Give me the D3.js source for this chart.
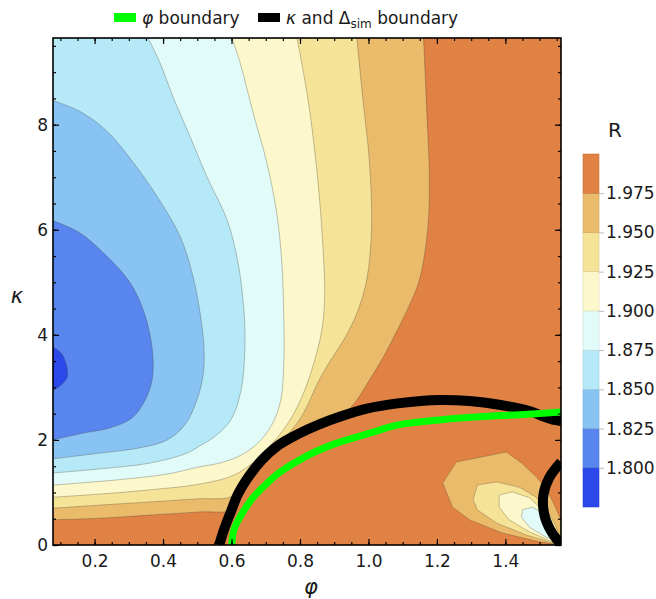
<!DOCTYPE html>
<html lang="en">
<head>
<meta charset="utf-8">
<title>R contour map</title>
<script src="https://cdn.jsdelivr.net/npm/d3@7"></script>
<style>
  body { margin: 0; background: #fff; }
  svg text { font-family: "DejaVu Sans", "Liberation Sans", Arial, sans-serif; fill: #1a1a1a; }
  .axis path { display: none; }
  .axis line { stroke: #000; stroke-width: 1.2; }
  .axis text { font-size: 17px; }
  .cbar path { display: none; }
  .cbar line { stroke: #bbb; }
  .cbar text { font-size: 17px; }
</style>
</head>
<body>
<script>
// plot ranges
var phiRange = [0.0785, 1.5625];
var kappaRange = [0, 9.65];
var xTicks = [0.2, 0.4, 0.6, 0.8, 1.0, 1.2, 1.4];
var yTicks = [0, 2, 4, 6, 8];

// contour levels and band colours (band i = R below levels[i], last = above top level)
var levels = [1.800, 1.825, 1.850, 1.875, 1.900, 1.925, 1.950, 1.975];
var bandColors = ["#2b49ea", "#5886ee", "#89c3f3", "#b6e9f7", "#e0fbf8",
                  "#fcf8cb", "#f5e397", "#eabb6b", "#df8244"];

// contour lines [phi, kappa], one per level
var c1800 = [[0.0785,3.77],[0.106,3.62],[0.120,3.20],[0.091,2.99],[0.0785,2.95]];
var c1825 = [[0.0785,6.17],[0.152,5.96],[0.237,5.49],[0.304,4.99],[0.342,4.48],[0.362,4.00],
             [0.371,3.52],[0.368,3.14],[0.348,2.76],[0.310,2.42],[0.246,2.23],[0.167,2.13],[0.0785,2.00]];
var c1850 = [[0.0785,8.46],[0.158,8.25],[0.237,7.87],[0.313,7.28],[0.383,6.63],[0.450,5.87],
             [0.488,5.10],[0.511,4.29],[0.520,3.71],[0.517,3.24],[0.499,2.76],[0.464,2.29],
             [0.412,2.00],[0.333,1.85],[0.217,1.75],[0.0785,1.64]];
var c1875 = [[0.356,9.65],[0.391,9.18],[0.429,8.53],[0.479,7.77],[0.528,7.01],[0.587,6.19],
             [0.619,5.37],[0.636,4.48],[0.639,3.71],[0.628,2.95],[0.598,2.38],[0.546,2.04],
             [0.508,1.89],[0.470,1.75],[0.362,1.56],[0.217,1.45],[0.0785,1.37]];
var c1900 = [[0.601,9.65],[0.625,9.18],[0.663,8.23],[0.703,7.28],[0.732,6.32],[0.747,5.37],
             [0.753,4.23],[0.753,3.52],[0.744,2.76],[0.718,2.29],[0.677,1.94],[0.625,1.70],
             [0.566,1.56],[0.508,1.49],[0.412,1.35],[0.266,1.24],[0.0785,1.14]];
var c1925 = [[0.791,9.65],[0.805,9.18],[0.829,8.23],[0.852,6.95],[0.867,5.68],[0.872,4.72],
             [0.864,4.10],[0.843,3.52],[0.814,2.95],[0.773,2.40],[0.724,1.97],[0.672,1.62],
             [0.607,1.33],[0.508,1.16],[0.362,1.05],[0.217,0.97],[0.0785,0.91]];
var c1950 = [[0.966,9.65],[0.983,8.53],[1.003,7.28],[1.009,6.00],[0.995,5.05],[0.968,4.44],
             [0.931,3.94],[0.887,3.49],[0.849,3.05],[0.823,2.67],[0.794,2.34],[0.756,2.04],
             [0.712,1.77],[0.674,1.50],[0.645,1.24],[0.619,1.01],[0.590,0.90],[0.508,0.88],
             [0.362,0.82],[0.217,0.76],[0.0785,0.70]];
var c1975 = [[1.161,9.65],[1.173,7.90],[1.178,6.95],[1.173,6.00],[1.149,5.05],[1.120,4.57],
             [1.085,4.10],[1.047,3.62],[1.003,3.14],[0.966,2.76],[0.936,2.54],[0.916,2.44],
             [0.858,2.30],[0.794,2.11],[0.735,1.89],[0.689,1.62],[0.651,1.31],[0.619,0.97],
             [0.598,0.67],[0.508,0.63],[0.362,0.57],[0.217,0.51],[0.0785,0.48]];
var mainContours = [c1800, c1825, c1850, c1875, c1900, c1925, c1950, c1975];

// small dip near the lower right corner (closed outlines)
var blob1975 = [[1.217,1.18],[1.257,1.58],[1.403,1.77],[1.447,1.56],[1.490,1.30],[1.522,1.05],
                [1.543,0.76],[1.5625,0.48],[1.5625,0],[1.499,0.06],[1.391,0.23],[1.295,0.48],[1.246,0.72]];
var blob1950 = [[1.318,1.14],[1.374,1.20],[1.441,1.10],[1.490,0.91],[1.522,0.67],[1.546,0.38],
                [1.5625,0.10],[1.537,0.04],[1.461,0.19],[1.374,0.42],[1.318,0.67],[1.306,0.86]];
var blob1925 = [[1.382,0.95],[1.421,1.01],[1.470,0.90],[1.508,0.67],[1.534,0.38],[1.554,0.06],
                [1.537,0.06],[1.470,0.25],[1.411,0.48],[1.382,0.72]];
var blob1900 = [[1.450,0.67],[1.479,0.72],[1.508,0.61],[1.534,0.34],[1.551,0.08],[1.519,0.15],
                [1.470,0.34],[1.447,0.53]];
var blobs = {7: blob1975, 6: blob1950, 5: blob1925, 4: blob1900};

// boundary curves
var phiBoundary = [[0.601,0],[0.607,0.29],[0.630,0.59],[0.660,0.88],[0.695,1.12],[0.738,1.37],
                   [0.788,1.58],[0.843,1.77],[0.907,1.94],[0.989,2.10],[1.091,2.29],[1.208,2.38],
                   [1.324,2.44],[1.441,2.48],[1.5625,2.53]];
var kappaBoundary = [[0.564,0],[0.578,0.29],[0.598,0.63],[0.619,0.97],[0.651,1.31],[0.689,1.62],
                     [0.735,1.89],[0.794,2.11],[0.858,2.30],[0.916,2.44],[0.992,2.59],[1.091,2.70],
                     [1.208,2.76],[1.295,2.74],[1.382,2.67],[1.470,2.55],[1.514,2.44],[1.543,2.38],[1.5625,2.36]];
var kappaBoundary2 = [[1.5625,1.58],[1.528,1.28],[1.511,0.95],[1.514,0.57],[1.531,0.29],
                      [1.551,0.10],[1.5625,0.02]];

// Sizes
var margin = {top: 38, right: 95, bottom: 54, left: 53};
var plot_w = 508, plot_h = 507;

var svg = d3.select("body").append("svg")
    .attr("width", 656).attr("height", 599);

var g = svg.append("g")
    .attr("transform", "translate(" + margin.left + "," + margin.top + ")");

var x = d3.scaleLinear().domain(phiRange).range([0, plot_w]);
var y = d3.scaleLinear().domain(kappaRange).range([plot_h, 0]);

g.append("clipPath").attr("id", "clip")
  .append("rect").attr("width", plot_w).attr("height", plot_h);

var plot = g.append("g").attr("clip-path", "url(#clip)");

var line = d3.line()
    .x(function(d) { return x(d[0]); })
    .y(function(d) { return y(d[1]); })
    .curve(d3.curveCatmullRom.alpha(0.5));
var closedLine = d3.line()
    .x(function(d) { return x(d[0]); })
    .y(function(d) { return y(d[1]); })
    .curve(d3.curveLinearClosed);

// background = highest band
plot.append("rect").attr("width", plot_w).attr("height", plot_h)
    .attr("fill", bandColors[8]);

// paint regions R < level from the top level down
for (var i = levels.length - 1; i >= 0; i--) {
  var pts = mainContours[i];
  var d = line(pts);
  if (pts[0][1] >= kappaRange[1] - 0.001) {
    d += "L" + x(phiRange[0]) + "," + y(kappaRange[1]);
  }
  d += "Z";
  plot.append("path").attr("d", d).attr("fill", bandColors[i]);
  if (blobs[i]) {
    plot.append("path").attr("d", closedLine(blobs[i])).attr("fill", bandColors[i]);
  }
}

// thin contour lines
mainContours.forEach(function(pts) {
  plot.append("path").attr("d", line(pts))
      .attr("fill", "none").attr("stroke", "rgba(70,60,50,0.45)").attr("stroke-width", 0.7);
});
[blob1975, blob1950, blob1925, blob1900].forEach(function(pts) {
  plot.append("path").attr("d", closedLine(pts))
      .attr("fill", "none").attr("stroke", "rgba(90,70,50,0.45)").attr("stroke-width", 0.7);
});

// boundary curves
plot.append("path").attr("d", line(kappaBoundary))
    .attr("fill", "none").attr("stroke", "#000").attr("stroke-width", 10);
plot.append("path").attr("d", line(kappaBoundary2))
    .attr("fill", "none").attr("stroke", "#000").attr("stroke-width", 10);
plot.append("path").attr("d", line(phiBoundary))
    .attr("fill", "none").attr("stroke", "#00ff00").attr("stroke-width", 7);

// axes: major + minor ticks on all four sides
var xMinor = d3.range(0.1, 1.56, 0.05);
var yMinor = d3.range(0, 9.6, 0.5);

g.append("g").attr("class", "axis")
  .attr("transform", "translate(0," + plot_h + ")")
  .call(d3.axisBottom(x).tickValues(xTicks).tickSize(-6).tickPadding(10).tickFormat(d3.format(".1f")));
g.append("g").attr("class", "axis")
  .attr("transform", "translate(0," + plot_h + ")")
  .call(d3.axisBottom(x).tickValues(xMinor).tickSize(-3).tickFormat(""));
g.append("g").attr("class", "axis")
  .call(d3.axisTop(x).tickValues(xTicks).tickSize(-6).tickFormat(""));
g.append("g").attr("class", "axis")
  .call(d3.axisTop(x).tickValues(xMinor).tickSize(-3).tickFormat(""));

g.append("g").attr("class", "axis")
  .call(d3.axisLeft(y).tickValues(yTicks).tickSize(-6).tickPadding(5).tickFormat(d3.format("d")));
g.append("g").attr("class", "axis")
  .call(d3.axisLeft(y).tickValues(yMinor).tickSize(-3).tickFormat(""));
g.append("g").attr("class", "axis")
  .attr("transform", "translate(" + plot_w + ",0)")
  .call(d3.axisRight(y).tickValues(yTicks).tickSize(-6).tickFormat(""));
g.append("g").attr("class", "axis")
  .attr("transform", "translate(" + plot_w + ",0)")
  .call(d3.axisRight(y).tickValues(yMinor).tickSize(-3).tickFormat(""));

g.append("rect").attr("width", plot_w).attr("height", plot_h)
  .attr("fill", "none").attr("stroke", "#000").attr("stroke-width", 1.6);

// axis labels
g.append("text").attr("x", plot_w / 2 + 4).attr("y", plot_h + 49)
  .attr("text-anchor", "middle").style("font-size", "21px").style("font-style", "italic")
  .text("\u03C6");
g.append("text").attr("x", -36).attr("y", plot_h / 2 + 11)
  .attr("text-anchor", "middle").style("font-size", "21px").style("font-style", "italic")
  .text("\u03BA");

// colour bar
var cbEdges = [1.775].concat(levels).concat([2.0]);
var cb = d3.scaleLinear().domain([1.775, 2.0]).range([507, 154]);
var cbar = svg.append("g");
for (var k = 0; k < bandColors.length; k++) {
  cbar.append("rect")
    .attr("x", 583).attr("width", 16)
    .attr("y", cb(cbEdges[k + 1])).attr("height", cb(cbEdges[k]) - cb(cbEdges[k + 1]))
    .attr("fill", bandColors[k])
    .attr("stroke", d3.color(bandColors[k]).darker(0.35)).attr("stroke-width", 0.6);
}
cbar.append("g").attr("class", "cbar")
  .attr("transform", "translate(599,0)")
  .call(d3.axisRight(cb).tickValues(levels).tickSize(5).tickPadding(2).tickFormat(d3.format(".3f")));
svg.append("text").attr("x", 615).attr("y", 137).attr("text-anchor", "middle")
  .style("font-size", "20px").text("R");

// legend on top
var legend = svg.append("g");
legend.append("rect").attr("x", 114).attr("y", 13).attr("width", 22).attr("height", 9).attr("fill", "#00ff00");
legend.append("text").attr("x", 142).attr("y", 24).style("font-size", "17px")
  .html('<tspan font-style="italic">\u03C6</tspan> boundary');
legend.append("rect").attr("x", 258).attr("y", 13).attr("width", 22).attr("height", 9).attr("fill", "#000");
legend.append("text").attr("x", 286).attr("y", 24).style("font-size", "17px")
  .html('<tspan font-style="italic">\u03BA</tspan> and \u0394<tspan dy="4" font-size="12px">sim</tspan><tspan dy="-4"> boundary</tspan>');
</script>
</body>
</html>
